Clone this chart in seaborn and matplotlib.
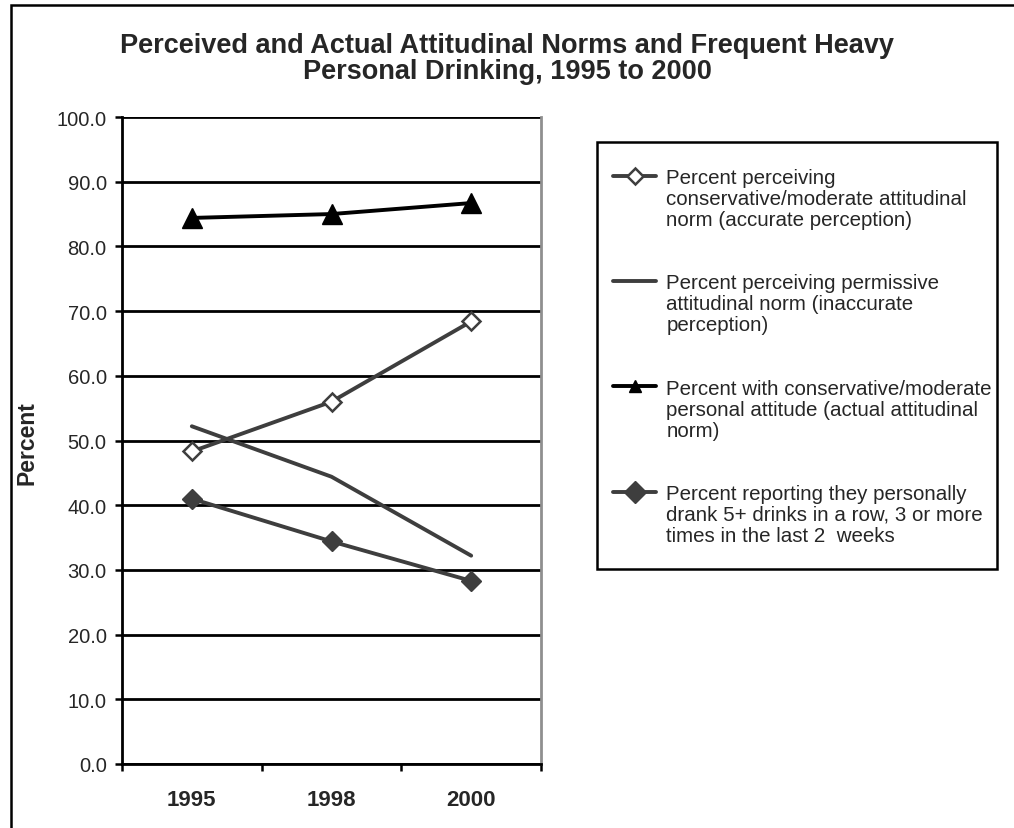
import matplotlib
matplotlib.use("Agg")
import matplotlib.pyplot as plt
import seaborn as sns
from matplotlib.lines import Line2D
from matplotlib.patches import Rectangle

# Data
years = ["1995", "1998", "2000"]
perceived_conservative = [48.3, 56.0, 68.4]   # hollow diamonds
perceived_permissive = [52.2, 44.4, 32.2]     # plain line
actual_conservative = [84.4, 85.0, 86.7]      # triangles
heavy_drinking = [41.0, 34.4, 28.3]           # filled diamonds

y_ticks = [0, 10, 20, 30, 40, 50, 60, 70, 80, 90, 100]

legend_text = [
    ["Percent perceiving", "conservative/moderate attitudinal", "norm (accurate perception)"],
    ["Percent perceiving permissive", "attitudinal norm (inaccurate", "perception)"],
    ["Percent with conservative/moderate", "personal attitude (actual attitudinal", "norm)"],
    ["Percent reporting they personally", "drank 5+ drinks in a row, 3 or more", "times in the last 2  weeks"],
]

title = "Perceived and Actual Attitudinal Norms and Frequent Heavy\nPersonal Drinking, 1995 to 2000"

sns.set_style("white")
plt.rcParams["font.family"] = ["Liberation Sans", "DejaVu Sans"]

gray = "#3e3e3e"
W, H = 1014, 829

fig = plt.figure(figsize=(W / 100, H / 100), dpi=100)
ax = fig.add_axes([122 / W, 1 - 765 / H, 419 / W, 647 / H])

# Series
sns.lineplot(x=years, y=perceived_conservative, ax=ax, color=gray, lw=2.8,
             marker="D", markersize=9.5, markerfacecolor="white",
             markeredgecolor=gray, markeredgewidth=1.8)
sns.lineplot(x=years, y=perceived_permissive, ax=ax, color=gray, lw=2.8)
sns.lineplot(x=years, y=actual_conservative, ax=ax, color="black", lw=2.8,
             marker="^", markersize=14, markerfacecolor="black",
             markeredgecolor="black", markeredgewidth=1)
sns.lineplot(x=years, y=heavy_drinking, ax=ax, color=gray, lw=2.8,
             marker="D", markersize=10, markerfacecolor=gray,
             markeredgecolor=gray, markeredgewidth=1)

# Axes styling
ax.set_ylim(0, 100)
ax.set_yticks(y_ticks)
ax.set_yticklabels([f"{v:.1f}" for v in y_ticks], fontsize=14.5)
ax.set_xlim(-0.5, 2.5)
ax.set_xticks([0, 1, 2])
ax.set_xticklabels(years, fontsize=16, fontweight="bold")
ax.set_xticks([-0.5, 0.5, 1.5, 2.5], minor=True)
ax.set_xlabel("")
ax.set_ylabel("")

ax.tick_params(axis="x", which="major", bottom=True, length=0, pad=18)
ax.tick_params(axis="x", which="minor", bottom=True, length=5, width=1.8,
               direction="out", color="black")
ax.tick_params(axis="y", left=True, length=5, width=1.8, direction="out",
               color="black", pad=6)

ax.set_axisbelow(True)
ax.grid(axis="y", color="black", lw=2)
ax.grid(axis="x", visible=False)
ax.spines["top"].set_visible(False)
ax.spines["left"].set_color("black")
ax.spines["left"].set_linewidth(2)
ax.spines["bottom"].set_color("black")
ax.spines["bottom"].set_linewidth(2)
ax.spines["right"].set_color("#8f8f8f")
ax.spines["right"].set_linewidth(2)

fig.text(27 / W, 1 - 443 / H, "Percent", rotation=90, ha="center", va="center",
         fontsize=16.5, fontweight="bold")
fig.text(0.5, 1 - 33 / H, title, ha="center", va="top", fontsize=19.5,
         fontweight="bold", linespacing=1.0)

# Legend: one row per text line so the symbol sits beside the first line
handles = [
    Line2D([], [], color=gray, lw=2.8, marker="D", markersize=8.5,
           markerfacecolor="white", markeredgecolor=gray, markeredgewidth=1.8),
    Line2D([], [], color=gray, lw=2.8),
    Line2D([], [], color="black", lw=2.8, marker="^", markersize=9,
           markerfacecolor="black", markeredgecolor="black"),
    Line2D([], [], color=gray, lw=2.8, marker="D", markersize=11,
           markerfacecolor=gray, markeredgecolor=gray),
]
blank = Line2D([], [], linestyle="none")
rows_h, rows_l = [], []
for i, (h, lines) in enumerate(zip(handles, legend_text)):
    if i > 0:
        rows_h += [blank, blank]
        rows_l += ["", ""]
    rows_h.append(h)
    rows_l.append(lines[0])
    for extra in lines[1:]:
        rows_h.append(blank)
        rows_l.append(extra)

fig.legend(rows_h, rows_l, loc="upper left", bbox_to_anchor=(613 / W, 1 - 169 / H),
           frameon=False, borderpad=0, borderaxespad=0, handlelength=2.1,
           handletextpad=0.5, labelspacing=0.1, fontsize=14.8)
fig.add_artist(Rectangle((597 / W, 1 - 570 / H), 400 / W, 427 / H,
                         transform=fig.transFigure, fill=False, ec="black", lw=1.8))

# Outer frame of the picture
fig.add_artist(Rectangle((11 / W, -0.1), 1.2, 1.1 - 6 / H,
                         transform=fig.transFigure, fill=False, ec="black", lw=1.8))

fig.savefig("out.png", dpi=100)
